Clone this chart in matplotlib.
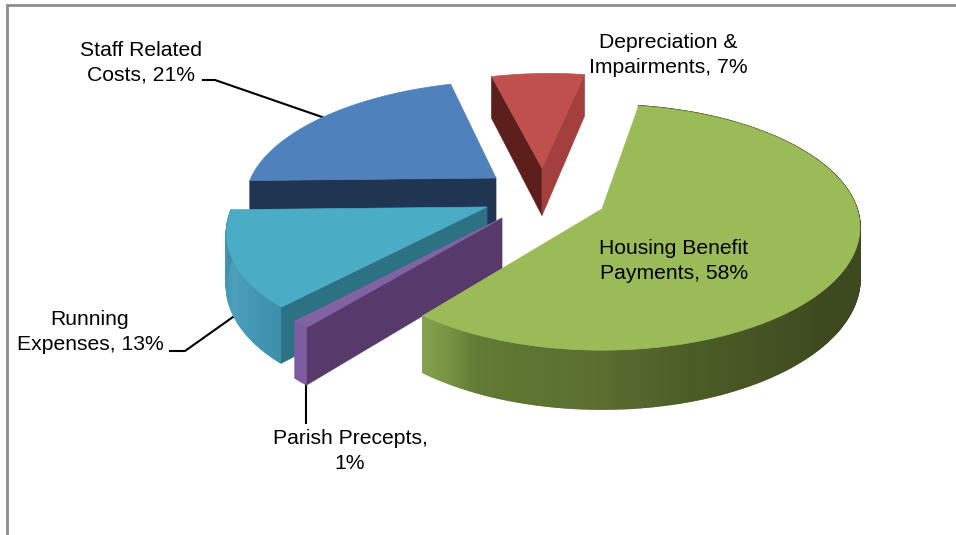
import numpy as np
import matplotlib
matplotlib.use("Agg")
import matplotlib.pyplot as plt
from matplotlib.colors import to_rgb
from matplotlib.patches import Polygon

plt.rcParams['font.family'] = ['Liberation Sans', 'DejaVu Sans']

categories = ["Housing Benefit\nPayments", "Parish Precepts,\n", "Running\nExpenses", "Staff Related\nCosts", "Depreciation &\nImpairments"]
values = [58, 1, 13, 21, 7]

START_ANGLE = 9.5

# projection of the pie plane onto the page, in pixels
ORIGIN_X, ORIGIN_Y = 602, 209
RADIUS_X, RADIUS_Y = 255, 120
TILT = 0.15
DEPTH = 50

# where the tip of each exploded slice lands on the page
tips = [(602, 209), (502, 218), (487, 207), (496, 178), (542, 168)]

top_colors = ["#9bbb59", "#8064a2", "#4bacc6", "#4f81bd", "#c0504d"]
# face along the first / last radial cut of a slice, None where it faces away
cut_start = [None, "#57396c", "#2d7185", "#1f3552", "#5c1f1c"]
cut_end = [None, None, None, None, "#a33f3c"]
rim_stops = [
    [(5, "#3d4a1f"), (130, "#3d4a1f"), (165, "#4d5e27"), (180, "#5a6e30"), (205, "#627a34"), (213, "#7a9645"), (219, "#86a250")],
    [(215, "#7d5da0"), (230, "#7d5da0")],
    [(220, "#3c8ea9"), (245, "#4ba0bc"), (272, "#3e8aa6")],
    None,
    None,
]
draw_order = [3, 4, 2, 1, 0]


def to_page(x, y, z=0):
    w = 1 + TILT * y
    return ORIGIN_X + RADIUS_X * x / w, ORIGIN_Y - RADIUS_Y * y / w + z * DEPTH / w


def from_page(px, py):
    v = (ORIGIN_Y - py) / RADIUS_Y
    y = v / (1 - TILT * v)
    x = (px - ORIGIN_X) / RADIUS_X * (1 + TILT * y)
    return x, y


def rim_point(tip, deg, z=0):
    a = np.radians(deg)
    return to_page(tip[0] + np.sin(a), tip[1] + np.cos(a), z)


fig = plt.figure(figsize=(9.56, 5.35), dpi=100)
ax = fig.add_axes([0, 0, 1, 1])
ax.set_xlim(0, 956)
ax.set_ylim(535, 0)
ax.axis("off")

# chart border, only top and left are in view
ax.plot([956, 7.5, 7.5], [4.5, 4.5, 535], color="#8c8c8c", lw=2, solid_joinstyle="miter")

edges = START_ANGLE + np.cumsum([0] + values) * 3.6
z = 2
for i in draw_order:
    start, end = edges[i], edges[i + 1]
    tip = from_page(*tips[i])
    color = top_colors[i]

    # outer wall, built of narrow strips so the shading can change along the arc
    if rim_stops[i] is not None:
        stop_deg = [s[0] for s in rim_stops[i]]
        stop_rgb = np.array([to_rgb(s[1]) for s in rim_stops[i]])
        arc = np.linspace(start, end, max(int(end - start) * 2, 4))
        for d0, d1 in zip(arc[:-1], arc[1:]):
            mid = (d0 + d1) / 2
            c = [np.interp(mid, stop_deg, stop_rgb[:, k]) for k in range(3)]
            quad = [rim_point(tip, d0), rim_point(tip, d1), rim_point(tip, d1, 1), rim_point(tip, d0, 1)]
            ax.add_patch(Polygon(quad, fc=c, ec=c, lw=1.2, zorder=z))
        z += 1

    for cut, deg in ((cut_start[i], start), (cut_end[i], end)):
        if cut is None:
            continue
        quad = [to_page(*tip), rim_point(tip, deg), rim_point(tip, deg, 1), to_page(tip[0], tip[1], 1)]
        ax.add_patch(Polygon(quad, fc=cut, ec=cut, lw=0.5, zorder=z))
        z += 1

    arc = np.linspace(start, end, max(int(end - start) * 2, 4))
    outline = [to_page(*tip)] + [rim_point(tip, d) for d in arc]
    ax.add_patch(Polygon(outline, fc=color, ec=color, lw=0.5, zorder=z))
    z += 1

# leader lines
ax.plot([203, 215, 322], [80, 80, 117], color="black", lw=1.5, zorder=1)
ax.plot([170, 185, 240], [351, 351, 312], color="black", lw=1.5, zorder=1)
ax.plot([306, 306], [380, 423], color="black", lw=1.5, zorder=1)

label_pos = [(674, 261), (350, 451), (90, 332), (141, 62.5), (668, 55)]
for name, val, (lx, ly) in zip(categories, values, label_pos):
    if name.endswith("\n"):
        txt = name + str(val) + "%"
    else:
        txt = name + ", " + str(val) + "%"
    ax.text(lx, ly, txt, ha="center", va="center", fontsize=15.2, linespacing=1.36, color="black", zorder=50)

fig.savefig("out.png", dpi=100)
